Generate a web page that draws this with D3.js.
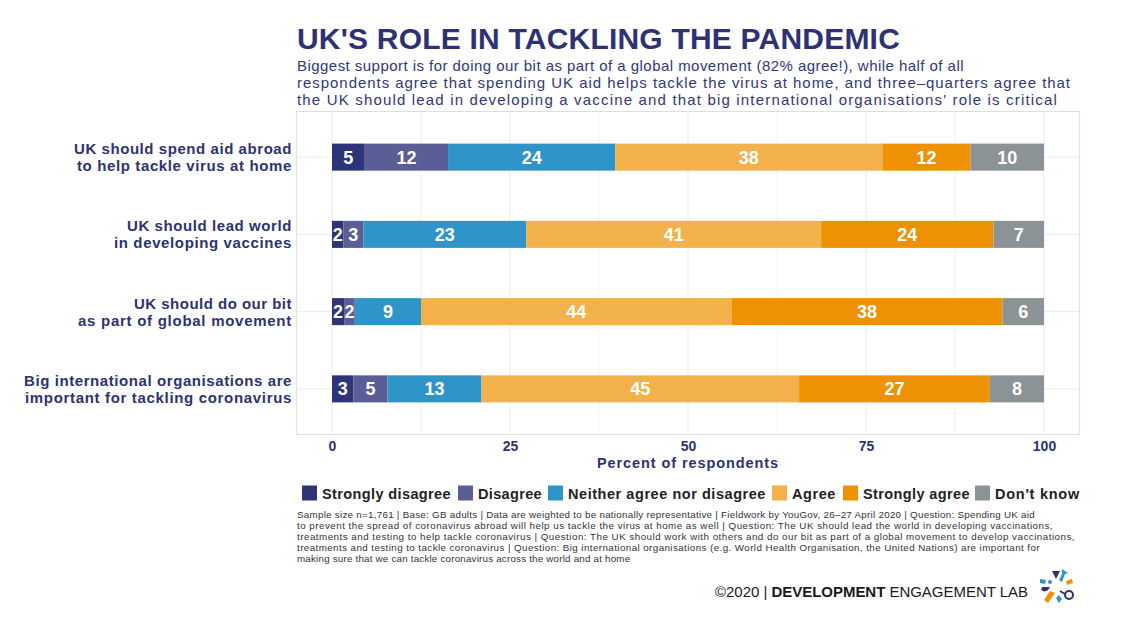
<!DOCTYPE html>
<html>
<head>
<meta charset="utf-8">
<script src="https://cdn.jsdelivr.net/npm/d3@7"></script>
<style>
  html, body { margin: 0; padding: 0; background: #fff; }
  svg { display: block; }
  text { font-family: "Liberation Sans", Arial, sans-serif; }
</style>
</head>
<body>
<svg id="chart" width="1126" height="628"></svg>
<script>
// ---------- data ----------
const categories = [
  ["UK should spend aid abroad", "to help tackle virus at home"],
  ["UK should lead world", "in developing vaccines"],
  ["UK should do our bit", "as part of global movement"],
  ["Big international organisations are", "important for tackling coronavirus"]
];
const seriesNames = ["Strongly disagree", "Disagree", "Neither agree nor disagree", "Agree", "Strongly agree", "Don't know"];
const seriesColors = ["#2e3478", "#5a5d96", "#2f95c8", "#f3b14c", "#ee9203", "#8c9396"];
// values per series, one per category (percent)
const stronglyDisagree = [4.6, 1.6, 1.7, 3.0];
const disagree         = [11.7, 2.8, 1.5, 4.8];
const neither          = [23.5, 22.9, 9.3, 13.2];
const agree            = [37.5, 41.4, 43.6, 44.6];
const stronglyAgree    = [12.4, 24.2, 38.1, 26.8];
const dontKnow         = [10.3, 7.1, 5.8, 7.6];
const seriesValues = [stronglyDisagree, disagree, neither, agree, stronglyAgree, dontKnow];
const xTicks = [0, 25, 50, 75, 100];

const titleText = "UK'S ROLE IN TACKLING THE PANDEMIC";
const subtitleLines = [
  "Biggest support is for doing our bit as part of a global movement (82% agree!), while half of all",
  "respondents agree that spending UK aid helps tackle the virus at home, and three\u2013quarters agree that",
  "the UK should lead in developing a vaccine and that big international organisations' role is critical"
];
const captionLines = [
  "Sample size n=1,761 | Base: GB adults | Data are weighted to be nationally representative | Fieldwork by YouGov, 26\u201327 April 2020 | Question: Spending UK aid",
  "to prevent the spread of coronavirus abroad will help us tackle the virus at home as well | Question: The UK should lead the world in developing vaccinations,",
  "treatments and testing to help tackle coronavirus | Question: The UK should work with others and do our bit as part of a global movement to develop vaccinations,",
  "treatments and testing to tackle coronavirus | Question: Big international organisations (e.g. World Health Organisation, the United Nations) are important for",
  "making sure that we can tackle coronavirus across the world and at home"
];

// ---------- layout ----------
const navy = "#2e3275";
const svg = d3.select("#chart");

const x = d3.scaleLinear().domain([0, 100]).range([332, 1044]);
const y = d3.scaleBand().domain(d3.range(categories.length)).range([118.5, 427.5]).paddingInner(0.65).paddingOuter(0.325);

function fitSpacing(node, target) {
  const w = node.getComputedTextLength();
  const n = node.textContent.length;
  if (w > 0 && n > 1) d3.select(node).style("letter-spacing", ((target - w) / n) + "px");
}

// panel
const px0 = x(-5), px1 = x(105), py0 = 111.5, py1 = 434.5;
svg.append("rect").attr("x", px0).attr("y", py0).attr("width", px1 - px0).attr("height", py1 - py0)
  .attr("fill", "#fff").attr("stroke", "#dedede").attr("stroke-width", 1);

// minor grid
const minor = [12.5, 37.5, 62.5, 87.5];
svg.append("g").selectAll("line").data(minor).join("line")
  .attr("x1", d => x(d)).attr("x2", d => x(d)).attr("y1", py0).attr("y2", py1)
  .attr("stroke", "#f3f3f3").attr("stroke-width", 1);
// major grid
svg.append("g").selectAll("line").data(xTicks).join("line")
  .attr("x1", d => x(d)).attr("x2", d => x(d)).attr("y1", py0).attr("y2", py1)
  .attr("stroke", "#ebebeb").attr("stroke-width", 1);
// horizontal grid
svg.append("g").selectAll("line").data(d3.range(categories.length)).join("line")
  .attr("x1", px0).attr("x2", px1)
  .attr("y1", d => y(d) + y.bandwidth() / 2).attr("y2", d => y(d) + y.bandwidth() / 2)
  .attr("stroke", "#ebebeb").attr("stroke-width", 1);

// stacked data
const rows = categories.map((c, i) => {
  const o = { i };
  seriesNames.forEach((s, j) => o[s] = seriesValues[j][i]);
  return o;
});
const stacked = d3.stack().keys(seriesNames)(rows);

const barG = svg.append("g");
stacked.forEach((layer, j) => {
  const g = barG.append("g").attr("fill", seriesColors[j]);
  g.selectAll("rect").data(layer).join("rect")
    .attr("x", d => x(d[0])).attr("width", d => x(d[1]) - x(d[0]))
    .attr("y", (d, i) => y(i)).attr("height", y.bandwidth());
});
stacked.forEach((layer, j) => {
  barG.append("g").selectAll("text").data(layer).join("text")
    .attr("x", d => (x(d[0]) + x(d[1])) / 2)
    .attr("y", (d, i) => y(i) + y.bandwidth() / 2 + 6.5)
    .attr("text-anchor", "middle")
    .attr("fill", "#fff").style("font-size", "18px").style("font-weight", 700)
    .text(d => Math.round(d[1] - d[0]));
});

// x axis labels
const xAxis = svg.append("g").attr("transform", `translate(0,${py1})`)
  .call(d3.axisBottom(x).tickValues(xTicks).tickSize(0).tickPadding(7).tickFormat(d3.format("d")));
xAxis.select(".domain").remove();
xAxis.selectAll("text").attr("fill", navy).style("font-size", "14px").style("font-weight", 700)
  .style("font-family", "'Liberation Sans', Arial, sans-serif");

svg.append("text").attr("x", x(50)).attr("y", 467.5).attr("text-anchor", "middle")
  .attr("fill", navy).style("font-size", "14.5px").style("font-weight", 700)
  .text("Percent of respondents")
  .each(function () { fitSpacing(this, 182); });

// y labels (one text element per line)
const yLabelW = [[218, 215], [165, 178], [158, 214], [268, 267]];
categories.forEach((lines, i) => {
  const cy = y(i) + y.bandwidth() / 2;
  lines.forEach((ln, k) => {
    svg.append("text").attr("text-anchor", "end").attr("fill", navy)
      .style("font-size", "15px").style("font-weight", 700)
      .attr("x", 292).attr("y", cy + (k === 0 ? -3 : 14)).text(ln)
      .each(function () { fitSpacing(this, yLabelW[i][k]); });
  });
});

// title & subtitle
svg.append("text").attr("x", 297).attr("y", 48.5).attr("fill", navy)
  .style("font-size", "30px").style("font-weight", 700).text(titleText)
  .each(function () { fitSpacing(this, 603); });
const subW = [667, 774, 761];
svg.append("g").selectAll("text").data(subtitleLines).join("text")
  .attr("x", 297).attr("y", (d, i) => 70.5 + i * 17)
  .attr("fill", "#33367a").style("font-size", "15px")
  .text(d => d)
  .each(function (d, i) { fitSpacing(this, subW[i]); });

// legend
const legendX = [302, 458, 548, 772, 843, 975];
const legendW = [129, 64, 198, 44, 107, 85];
const lg = svg.append("g");
seriesNames.forEach((s, j) => {
  lg.append("rect").attr("x", legendX[j]).attr("y", 485.5).attr("width", 15).attr("height", 15).attr("fill", seriesColors[j]);
  lg.append("text").attr("x", legendX[j] + 20).attr("y", 498.5).attr("fill", "#222")
    .style("font-size", "14.5px").style("font-weight", 700).text(s)
    .each(function () { fitSpacing(this, legendW[j]); });
});

// caption
const capW = [738, 756, 778, 743, 0];
svg.append("g").selectAll("text").data(captionLines).join("text")
  .attr("x", 297).attr("y", (d, i) => 518 + i * 11)
  .attr("fill", "#333").style("font-size", "9.8px")
  .text(d => d)
  .each(function (d, i) { if (capW[i]) fitSpacing(this, capW[i]); else d3.select(this).style("letter-spacing", "0.2px"); });

// footer
const foot = svg.append("text").attr("x", 715).attr("y", 597).attr("fill", "#1a1a1a")
  .style("font-size", "15px").style("font-weight", 400);
foot.append("tspan").text("\u00a92020 | ");
foot.append("tspan").style("font-weight", 700).text("DEVELOPMENT");
foot.append("tspan").text(" ENGAGEMENT LAB");
foot.each(function () { fitSpacing(this, 313); });

// logo (decorative)
const logo = svg.append("g").attr("transform", "translate(1056,587)");
logo.append("path").attr("d", "M-4,-16 L4,-16 L0,-8 Z").attr("fill", "#2e3275");
logo.append("path").attr("d", "M6,-18 L12,-14 L9,-13 L6,-5 L3,-7 L6,-13 Z").attr("fill", "#2f95c8");
logo.append("path").attr("d", "M10,-6 L16,-8 L17,-4 L11,-2 Z").attr("fill", "#ee9203");
logo.append("circle").attr("cx", 13).attr("cy", 8).attr("r", 4).attr("fill", "none").attr("stroke", "#2e3275").attr("stroke-width", 2);
logo.append("line").attr("x1", 4).attr("y1", 4).attr("x2", 9).attr("y2", 7).attr("stroke", "#2e3275").attr("stroke-width", 2);
logo.append("path").attr("d", "M-6,4 L-1,6 L-8,16 L-12,13 Z").attr("fill", "#ee9203");
logo.append("path").attr("d", "M3,8 L6,12 L3,16 L0,11 Z").attr("fill", "#2f95c8");
logo.append("path").attr("d", "M-14,0 C-16,4 -12,6 -8,3 L-6,0 Z").attr("fill", "#2e3275");
logo.append("path").attr("d", "M-16,-8 L-10,-7 L-11,-3 L-16,-4 Z").attr("fill", "#2f95c8");
logo.append("circle").attr("cx", -6).attr("cy", -5).attr("r", 2).attr("fill", "#2f95c8");
</script>
</body>
</html>
